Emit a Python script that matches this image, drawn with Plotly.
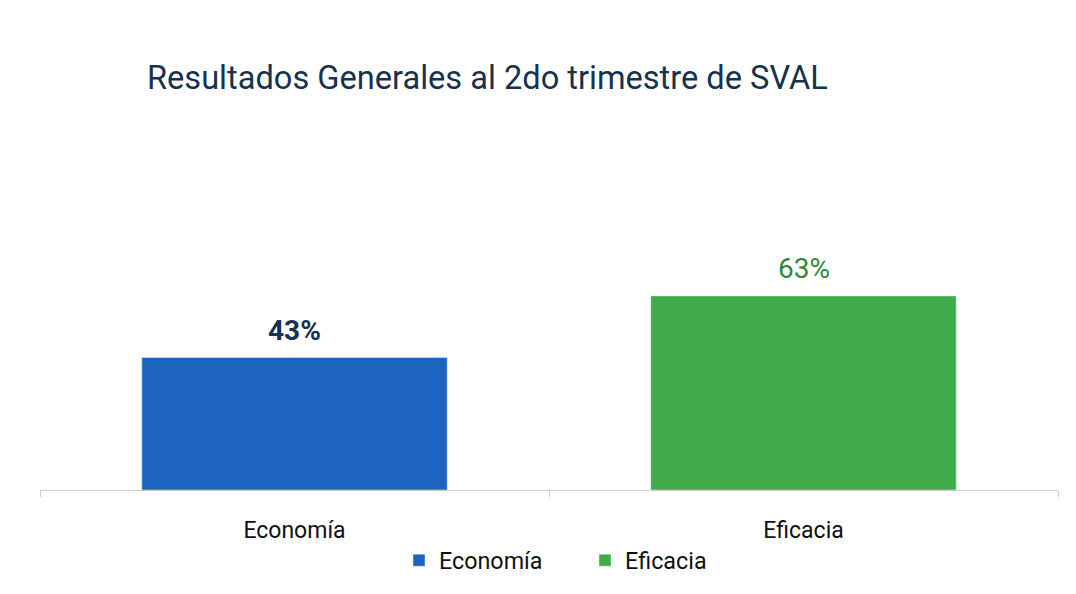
import plotly.graph_objects as go

categories = ["Economía", "Eficacia"]
values = [0.43, 0.63]
colors = ["#1c64bf", "#3fab4b"]
label_colors = ["#16324f", "#2e8a3b"]
label_bold = [True, False]
title_text = "Resultados Generales al 2do trimestre de SVAL"

fig = go.Figure()
for cat, val, col in zip(categories, values, colors):
    fig.add_trace(go.Bar(
        x=[cat], y=[val], name=cat, marker_color=col, width=0.6,
        hoverinfo="skip",
    ))

for cat, val, lc, b in zip(categories, values, label_colors, label_bold):
    txt = f"{round(val*100)}%"
    fig.add_annotation(
        x=cat, y=val, text=f"<b>{txt}</b>" if b else txt,
        showarrow=False, yanchor="middle", yshift=27,
        font=dict(family="Roboto", size=28, color=lc),
    )

fig.update_layout(
    width=1076, height=594,
    paper_bgcolor="white", plot_bgcolor="white",
    barmode="overlay",
    margin=dict(l=40, r=18, t=182, b=102, pad=0),
    title=dict(
        text=title_text, x=147/1076, xanchor="left", xref="container",
        y=1 - 78/594, yanchor="middle", yref="container",
        font=dict(family="Roboto", size=32.6, color="#16324f"),
    ),
    showlegend=True,
    legend=dict(
        orientation="h", x=(399 - 40) / 1018, xanchor="left", y=-71/310, yanchor="middle",
        font=dict(family="Roboto", size=23.3, color="#111111"),
        entrywidth=141, entrywidthmode="pixels",
    ),
    xaxis=dict(
        showline=True, linecolor="#cccccc", linewidth=1,
        ticks="outside", tickson="boundaries", tickcolor="#cccccc", ticklen=6,
        tickfont=dict(family="Roboto", size=23, color="#111111"),
        ticklabelstandoff=19,
        showgrid=False,
    ),
    yaxis=dict(range=[0, 1], visible=False, showgrid=False),
)
fig.write_html(
    "out.html",
    config={"displayModeBar": False},
    post_script="document.body.style.margin='0';document.body.style.overflow='hidden';",
)
